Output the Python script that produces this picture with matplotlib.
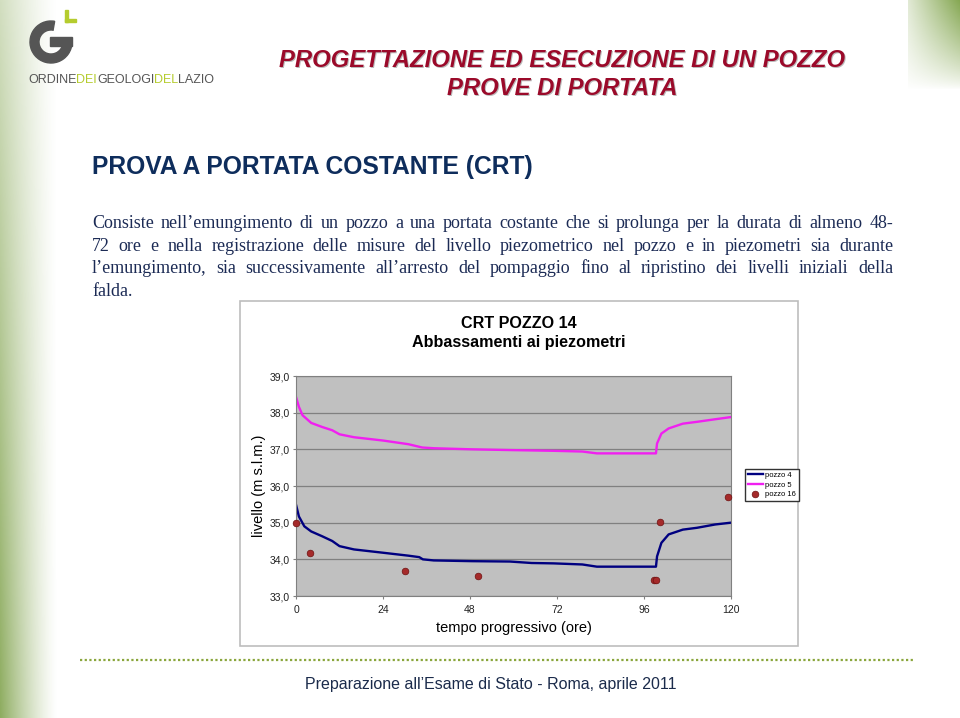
import numpy as np
import matplotlib
matplotlib.use('Agg')
import matplotlib.pyplot as plt
from matplotlib.patches import Rectangle, Wedge
from matplotlib.ticker import FuncFormatter

W, H = 960, 718

# --- chart data ---
t_pozzo4 = [0, 0.8, 2.3, 4.2, 7.2, 10, 12, 16, 24, 31, 34, 35, 38, 48.6, 59, 65, 71, 79, 83,
            93, 99.3, 99.6, 100.8, 102.8, 106.7, 110.6, 115.6, 120]
h_pozzo4 = [35.49, 35.17, 34.9, 34.76, 34.63, 34.5, 34.36, 34.27, 34.18, 34.1, 34.06, 34.0,
            33.97, 33.95, 33.94, 33.9, 33.89, 33.86, 33.8, 33.8, 33.8, 34.08, 34.45, 34.68,
            34.81, 34.86, 34.95, 35.0]
t_pozzo5 = [0, 0.8, 1.8, 4.2, 7.2, 10, 12, 16, 24, 31, 34.8, 38, 48.6, 59, 71, 79, 83, 93,
            99.3, 99.6, 100.8, 102.8, 106.7, 110.6, 115.6, 120]
h_pozzo5 = [38.43, 38.16, 37.93, 37.72, 37.61, 37.52, 37.41, 37.33, 37.24, 37.14, 37.05,
            37.03, 37.0, 36.98, 36.96, 36.94, 36.89, 36.89, 36.89, 37.16, 37.43, 37.57,
            37.7, 37.75, 37.82, 37.88]
t_pozzo16 = [0, 3.8, 30, 50.3, 98.8, 99.3, 100.3, 119.2]
h_pozzo16 = [35.0, 34.16, 33.68, 33.55, 33.43, 33.43, 35.01, 35.69]

x_ticks = [0, 24, 48, 72, 96, 120]
y_ticks = [33, 34, 35, 36, 37, 38, 39]

title_lines = ['PROGETTAZIONE ED ESECUZIONE DI UN POZZO', 'PROVE DI PORTATA']
subtitle = 'PROVA A PORTATA COSTANTE (CRT)'
paragraph = [
    'Consiste nell\u2019emungimento di un pozzo a una portata costante che si prolunga per la durata di almeno 48-',
    '72 ore e nella registrazione delle misure del livello piezometrico nel pozzo e in piezometri sia durante',
    'l\u2019emungimento, sia successivamente all\u2019arresto del pompaggio fino al ripristino dei livelli iniziali della',
    'falda.',
]
footer = 'Preparazione all\u2019Esame di Stato - Roma, aprile 2011'

plt.rcParams['font.family'] = ['Liberation Sans', 'DejaVu Sans']

fig = plt.figure(figsize=(W / 100, H / 100), dpi=100)
fig.patch.set_facecolor('white')

# background axes in pixel coordinates
bg = fig.add_axes([0, 0, 1, 1], zorder=0)
bg.set_xlim(0, W)
bg.set_ylim(H, 0)
bg.axis('off')

# left green band
xs = np.linspace(0, 1, 58)
ys = np.linspace(0, 1, H)
alpha = (1 - xs[None, :]) ** 1.3 * (0.4 + 0.6 * ys[:, None]) * 0.85
band = np.zeros((H, 58, 4))
band[..., 0] = 122 / 255
band[..., 1] = 158 / 255
band[..., 2] = 68 / 255
band[..., 3] = alpha
bg.imshow(band, extent=(0, 58, H, 0), aspect='auto', interpolation='bilinear')

# top-right green box
xs2 = np.linspace(0, 1, 52)
ys2 = np.linspace(0, 1, 90)
alpha2 = (0.25 + 0.75 * xs2[None, :]) * (1 - ys2[:, None]) ** 0.8 * 0.85
box = np.zeros((90, 52, 4))
box[..., 0] = 112 / 255
box[..., 1] = 152 / 255
box[..., 2] = 52 / 255
box[..., 3] = alpha2
bg.imshow(box, extent=(908, 960, 90, 0), aspect='auto', interpolation='bilinear')

# logo
bg.add_patch(Wedge((51, 42), 21, 0, 280, width=9, color='#555555'))
bg.add_patch(Rectangle((50, 37), 22, 9, color='#555555'))
bg.add_patch(Rectangle((65, 10), 3, 12, color='#b5cc2e'))
bg.add_patch(Rectangle((65, 19), 11, 3, color='#b5cc2e'))

renderer = fig.canvas.get_renderer()


def run_text(parts, x0, y, **kw):
    x = x0
    for s, c in parts:
        t = bg.text(x, y, s, color=c, va='baseline', ha='left', **kw)
        x += t.get_window_extent(renderer).width


logo_parts = [('ORDINE', '#555555'), ('DEI', '#b5cc2e'), ('GEOLOGI', '#555555'),
              ('DEL', '#b5cc2e'), ('LAZIO', '#555555')]
run_text(logo_parts, 28, 83, fontsize=9.0)

# slide title with light shadow
for i, line in enumerate(title_lines):
    y = 67 + i * 28
    bg.text(563, y + 1.2, line, ha='center', va='baseline', fontsize=17.2,
            fontweight='bold', style='italic', color='#bbbbbb')
    bg.text(562, y, line, ha='center', va='baseline', fontsize=17.2,
            fontweight='bold', style='italic', color='#9b0a2a')

bg.text(92, 174, subtitle, ha='left', va='baseline', fontsize=17.7, fontweight='bold',
        color='#0e2d5c')


def justify(line, x0, x1, y, **kw):
    words = line.split(' ')
    texts = [bg.text(0, y, w, va='baseline', ha='left', **kw) for w in words]
    widths = [t.get_window_extent(renderer).width for t in texts]
    gap = (x1 - x0 - sum(widths)) / max(len(words) - 1, 1)
    x = x0
    for t, w in zip(texts, widths):
        t.set_x(x)
        x += w + gap


for i, line in enumerate(paragraph):
    y = 228 + i * 22.7
    kw = dict(fontsize=13, family='Liberation Serif', color='#1c2b55')
    if i < len(paragraph) - 1:
        justify(line, 92, 893, y, **kw)
    else:
        bg.text(92, y, line, va='baseline', ha='left', **kw)

# chart frame
bg.add_patch(Rectangle((240, 301), 558, 345, facecolor='white', edgecolor='#bdbdbd', lw=1.2))
bg.text(519, 333, 'CRT POZZO 14\nAbbassamenti ai piezometri', ha='center', va='center',
        fontsize=11.6, fontweight='bold', linespacing=1.4)

# footer
bg.plot([80, 915], [660, 660], linestyle=(0, (1, 1.1)), lw=1.6, color='#8aa63c')
bg.text(491, 685, footer, ha='center', va='center', fontsize=11.5, color='#1b2b4b')

# chart axes
ax = fig.add_axes([296 / W, 1 - 596 / H, 435 / W, 220 / H], zorder=2)
ax.set_facecolor('#c0c0c0')
ax.plot(t_pozzo4, h_pozzo4, color='#000080', lw=1.7, label='pozzo 4')
ax.plot(t_pozzo5, h_pozzo5, color='#f020f0', lw=1.7, label='pozzo 5')
ax.plot(t_pozzo16, h_pozzo16, linestyle='none', marker='o', ms=4.8, mfc='#a52a2a',
        mec='#6e1010', mew=0.5, label='pozzo 16', clip_on=False, zorder=4)
ax.set_xlim(0, 120)
ax.set_ylim(33, 39)
ax.set_xticks(x_ticks)
ax.set_yticks(y_ticks)
ax.yaxis.set_major_formatter(FuncFormatter(lambda v, p: f'{v:.1f}'.replace('.', ',')))
ax.grid(axis='y', color='#808080', lw=0.9)
ax.set_axisbelow(True)
for s in ax.spines.values():
    s.set_color('#808080')
ax.tick_params(labelsize=7.5, length=2.5, color='#808080', pad=2, labelcolor='#222222')
ax.tick_params(axis='x', pad=4)
ax.set_xlabel('tempo progressivo (ore)', fontsize=10.5)
ax.set_ylabel('livello (m s.l.m.)', fontsize=10.5)
ax.xaxis.set_label_coords(0.5, -0.115)
ax.yaxis.set_label_coords(-0.07, 0.5)
ax.legend(loc='center left', bbox_to_anchor=(745 / W, 1 - 485 / H), bbox_transform=fig.transFigure,
          fontsize=5.5, frameon=True, fancybox=False, edgecolor='#333333', framealpha=1,
          borderpad=0.35, labelspacing=0.3, handlelength=2.0, handletextpad=0.3,
          borderaxespad=0)

fig.savefig('out.png', dpi=100)
